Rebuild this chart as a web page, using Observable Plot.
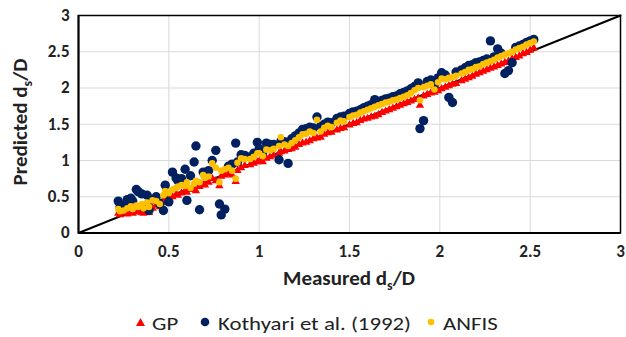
<!DOCTYPE html>
<html>
<head>
<meta charset="utf-8">
<script src="https://cdn.jsdelivr.net/npm/d3@7"></script>
<script src="https://cdn.jsdelivr.net/npm/@observablehq/plot@0.6"></script>
<style>
  html, body { margin: 0; padding: 0; background: #fff; }
  #wrap { width: 626px; position: relative; font-family: Carlito, "Liberation Sans Narrow", "Open Sans", sans-serif; }
  #legend { position: relative; height: 47px; font-size: 19px; color: #222; }
  #legend .mk { position: absolute; line-height: 0; }
  #legend .mk svg { display: block; }
  #legend .lb { position: absolute; top: 24px; white-space: nowrap; transform-origin: 0 50%; line-height: 1; }
</style>
</head>
<body>
<div id="wrap"></div>
<script>
// Measured d_s/D (shared by the three series)
const measured = [0.22,0.23,0.25,0.27,0.29,0.30,0.32,0.33,0.35,0.36,0.38,0.39,0.41,0.43,0.45,0.47,0.48,0.50,
  0.52,0.54,0.55,0.57,0.59,0.60,0.62,0.64,0.65,0.67,0.69,0.70,0.72,0.74,0.76,0.78,0.79,0.81,0.83,0.85,0.87,0.88,0.90,0.92,0.95,0.97,0.99,
  1.00,1.02,1.04,1.06,1.08,1.11,1.12,1.14,1.16,1.18,1.20,1.22,1.24,1.26,1.28,1.30,1.32,1.34,1.36,1.38,1.40,1.43,1.45,1.47,
  1.50,1.52,1.54,1.56,1.58,1.60,1.62,1.64,1.66,1.68,1.70,1.72,1.74,1.76,1.78,1.80,1.82,1.84,1.86,1.88,1.89,1.91,1.93,1.95,1.97,1.99,
  2.01,2.03,2.05,2.07,2.09,2.12,2.14,2.16,2.18,2.20,2.22,2.24,2.26,2.28,2.30,2.32,2.34,2.36,2.38,2.40,2.42,2.44,2.46,2.48,2.50,2.52];

// Predicted by GP
const gpPred = [0.27,0.25,0.28,0.26,0.30,0.27,0.29,0.31,0.28,0.27,0.32,0.28,0.34,0.38,0.36,0.42,0.46,0.44,
  0.50,0.53,0.52,0.55,0.58,0.56,0.60,0.61,0.58,0.64,0.67,0.66,0.70,0.75,0.72,0.65,0.78,0.80,0.82,0.80,0.71,0.86,0.90,0.93,0.94,0.96,0.98,
  0.99,0.98,1.03,1.05,1.07,1.10,1.12,1.13,1.15,1.16,1.18,1.22,1.24,1.25,1.27,1.30,1.31,1.32,1.36,1.38,1.39,1.42,1.44,1.45,
  1.49,1.51,1.52,1.55,1.57,1.58,1.60,1.61,1.63,1.66,1.68,1.70,1.72,1.74,1.76,1.78,1.80,1.82,1.84,1.86,1.76,1.89,1.91,1.93,1.94,1.96,
  1.99,2.01,2.03,2.05,2.06,2.10,2.12,2.14,2.16,2.19,2.21,2.23,2.25,2.27,2.29,2.31,2.33,2.35,2.37,2.40,2.42,2.44,2.47,2.49,2.52,2.55];

// Predicted by Kothyari et al. (1992)
const kothyariPred = [0.44,0.36,0.38,0.46,0.48,0.44,0.60,0.57,0.54,0.36,0.52,0.31,0.46,0.50,0.40,0.31,0.66,0.43,
  0.84,0.76,0.72,0.75,0.88,0.45,0.79,0.98,1.20,0.32,0.84,0.80,0.86,1.00,1.14,0.40,0.25,0.33,0.92,0.95,1.24,0.98,1.08,1.07,1.05,1.10,1.25,
  1.16,1.12,1.24,1.22,1.22,1.01,1.26,1.26,0.96,1.30,1.34,1.38,1.43,1.44,1.46,1.45,1.60,1.47,1.50,1.53,1.52,1.58,1.60,1.61,
  1.65,1.67,1.68,1.70,1.73,1.75,1.77,1.84,1.80,1.83,1.85,1.86,1.88,1.89,1.92,1.94,1.96,1.99,2.02,2.07,1.44,1.55,2.09,2.11,2.05,2.14,
  2.21,2.18,1.87,1.80,2.22,2.25,2.28,2.31,2.32,2.35,2.36,2.38,2.40,2.65,2.43,2.54,2.48,2.20,2.24,2.35,2.56,2.58,2.60,2.63,2.65,2.67];

// Predicted by ANFIS
const anfisPred = [0.33,0.30,0.31,0.34,0.37,0.33,0.38,0.36,0.40,0.34,0.42,0.36,0.45,0.44,0.40,0.52,0.58,0.55,
  0.60,0.62,0.64,0.66,0.65,0.70,0.62,0.68,0.72,0.70,0.80,0.76,0.78,0.96,0.90,0.70,0.86,0.88,0.90,0.86,0.75,0.97,1.03,1.02,1.02,1.05,1.10,
  1.10,1.06,1.15,1.14,1.16,1.20,1.32,1.22,1.20,1.24,1.28,1.32,1.36,1.37,1.40,1.38,1.56,1.40,1.45,1.48,1.46,1.52,1.55,1.54,
  1.60,1.62,1.63,1.66,1.68,1.70,1.72,1.74,1.76,1.78,1.80,1.81,1.83,1.84,1.86,1.88,1.90,1.93,1.97,2.00,1.83,2.01,2.03,2.05,1.98,2.08,
  2.13,2.12,2.14,2.15,2.17,2.20,2.22,2.25,2.26,2.29,2.30,2.33,2.35,2.37,2.39,2.42,2.44,2.46,2.48,2.50,2.53,2.55,2.57,2.60,2.62,2.64];

// 1:1 reference line and axis ticks
const lineX = [0, 3];
const axisTicks = [0, 0.5, 1, 1.5, 2, 2.5, 3];
const tickLabels = ["0", "0.5", "1", "1.5", "2", "2.5", "3"];
const xTitle = ["Measured d", "s", "/D"];
const yTitle = ["Predicted d", "s", "/D"];
const seriesNames = ["GP", "Kothyari et al. (1992)", "ANFIS"];
const seriesColors = ["#ff0000", "#002060", "#ffc000"];

const data = measured.map((m, i) => ({m, gp: gpPred[i], ko: kothyariPred[i], an: anfisPred[i]}));
const diag = lineX.map(v => ({a: v, b: v}));
const fmt = d => tickLabels[axisTicks.indexOf(d)];
const FONT = 'Carlito, "Liberation Sans Narrow", "Open Sans", sans-serif';

const W = 626, H = 290, ML = 78, MR = 6, MT = 15, MB = 57.5;

const chart = Plot.plot({
  width: W, height: H,
  marginLeft: ML, marginRight: MR, marginTop: MT, marginBottom: MB,
  style: {fontFamily: FONT, background: "#fff", overflow: "visible"},
  x: {domain: [0, 3], label: null},
  y: {domain: [0, 3], label: null},
  marks: [
    Plot.gridX(axisTicks, {stroke: "#d9d9d9", strokeOpacity: 1, strokeWidth: 1}),
    Plot.gridY(axisTicks, {stroke: "#d9d9d9", strokeOpacity: 1, strokeWidth: 1}),
    Plot.frame({stroke: "#000", strokeWidth: 1.5}),
    Plot.ruleX([0], {stroke: "#000", strokeWidth: 2}),
    Plot.ruleY([0], {stroke: "#000", strokeWidth: 2}),
    Plot.line(diag, {x: "a", y: "b", stroke: "#000", strokeWidth: 2}),
    Plot.dot(data, {x: "m", y: "gp", symbol: "triangle", fill: seriesColors[0], r: 3.1}),
    Plot.dot(data, {x: "m", y: "ko", fill: seriesColors[1], r: 4.7}),
    Plot.dot(data, {x: "m", y: "an", fill: seriesColors[2], r: 3.3}),
    Plot.axisX(axisTicks, {tickSize: 0, tickPadding: 12, tickFormat: fmt, fontSize: 17, fontWeight: "bold", fill: "#222", label: null}),
    Plot.axisY(axisTicks, {tickSize: 0, tickPadding: 9, tickFormat: fmt, fontSize: 17, fontWeight: "bold", fill: "#222", label: null})
  ]
});

const svg = d3.select(chart);
function addTitle(parts, x, y, rotate) {
  const t = svg.append("text")
    .attr("transform", `translate(${x},${y})` + (rotate ? " rotate(-90)" : ""))
    .attr("text-anchor", "middle")
    .attr("font-family", FONT)
    .attr("font-size", 21)
    .attr("font-weight", "bold")
    .attr("fill", "#222");
  t.append("tspan").text(parts[0]);
  t.append("tspan").attr("font-size", 14).attr("dy", 5).text(parts[1]);
  t.append("tspan").attr("dy", -5).text(parts[2]);
}
const cx = ML + (W - ML - MR) / 2;
addTitle(xTitle, cx, 285, false);
addTitle(yTitle, 27, 122, true);

const wrap = document.getElementById("wrap");
wrap.appendChild(chart);

// Legend (HTML below the SVG)
const legend = document.createElement("div");
legend.id = "legend";
const shapes = [
  '<svg width="9" height="8"><polygon points="4.5,0 9,8 0,8" fill="#ff0000"/></svg>',
  '<svg width="10" height="10"><circle cx="5" cy="5" r="4.3" fill="#002060"/></svg>',
  '<svg width="8" height="8"><circle cx="4" cy="4" r="3.3" fill="#ffc000"/></svg>'
];
const mkPos = [[136, 28], [200, 27], [427, 28]];
const lbPos = [152, 218, 443];
const lbScale = [1.2, 1.2, 1.2];
seriesNames.forEach((n, i) => {
  const mk = document.createElement("div");
  mk.className = "mk";
  mk.style.left = mkPos[i][0] + "px";
  mk.style.top = mkPos[i][1] + "px";
  mk.innerHTML = shapes[i];
  legend.appendChild(mk);
  const lb = document.createElement("div");
  lb.className = "lb";
  lb.style.left = lbPos[i] + "px";
  lb.style.transform = `scaleX(${lbScale[i]})`;
  lb.textContent = n;
  legend.appendChild(lb);
});
wrap.appendChild(legend);
</script>
</body>
</html>
